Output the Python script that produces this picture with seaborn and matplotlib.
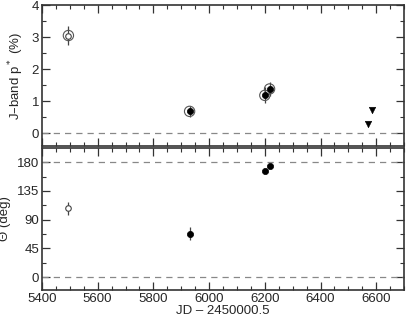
import numpy as np
import pandas as pd
import matplotlib
matplotlib.use("Agg")
import matplotlib.pyplot as plt
from matplotlib.ticker import MultipleLocator
import seaborn as sns

# ── data ──────────────────────────────────────────────────────────────────────
jd_pol = [5495, 5930, 6200, 6217]
pol = [3.05, 0.68, 1.18, 1.38]
pol_err = [0.30, 0.18, 0.25, 0.22]
pol_filled = [False, True, True, True]

jd_lim = [6570, 6585]
pol_lim = [0.27, 0.73]

jd_ang = [5495, 5930, 6200, 6217]
ang = [108, 68, 167, 174]
ang_err = [10, 10, 3, 3]
ang_filled = [False, True, True, True]

sns.set_theme(style="white")
plt.rcParams["font.family"] = ["Liberation Sans", "DejaVu Sans"]
plt.rcParams["font.size"] = 9
plt.rcParams["axes.labelsize"] = 9.5

df_p = pd.DataFrame({"jd": jd_pol, "p": pol, "err": pol_err, "filled": pol_filled})
df_a = pd.DataFrame({"jd": jd_ang, "a": ang, "err": ang_err, "filled": ang_filled})
df_l = pd.DataFrame({"jd": jd_lim, "p": pol_lim})

fig = plt.figure(figsize=(4.07, 3.20), dpi=100)
ax1 = fig.add_axes([0.103, 0.544, 0.890, 0.440])
ax2 = fig.add_axes([0.103, 0.094, 0.890, 0.443])

edge = "#333333"

# top panel: polarisation
ax1.axhline(0, color="#888888", lw=0.9, ls=(0, (5, 4)))
ax1.errorbar(df_p["jd"], df_p["p"], yerr=df_p["err"], fmt="none",
             ecolor="#444444", elinewidth=0.9, zorder=2)
sns.scatterplot(data=df_p, x="jd", y="p", ax=ax1, s=55, marker="o",
                facecolor="none", edgecolor="#555555", linewidth=0.8,
                legend=False, zorder=3)
sns.scatterplot(data=df_p[df_p["filled"]], x="jd", y="p", ax=ax1, s=20,
                color="black", edgecolor="black", linewidth=0.5,
                legend=False, zorder=4)
sns.scatterplot(data=df_p[~df_p["filled"]], x="jd", y="p", ax=ax1, s=16,
                facecolor="white", edgecolor="#444444", linewidth=0.8,
                legend=False, zorder=4)
sns.scatterplot(data=df_l, x="jd", y="p", ax=ax1, s=22, marker="v",
                color="black", edgecolor="black", legend=False, zorder=4)

ax1.set_xlim(5400, 6700)
ax1.set_ylim(-0.4, 4)
ax1.yaxis.set_major_locator(MultipleLocator(1))
ax1.yaxis.set_minor_locator(MultipleLocator(0.5))
ax1.set_ylabel("J\u2013band p$^*$ (%)")
ax1.set_xlabel("")
ax1.tick_params(labelbottom=False)

# bottom panel: angle
for yv in (0, 180):
    ax2.axhline(yv, color="#888888", lw=0.9, ls=(0, (5, 4)))
ax2.errorbar(df_a["jd"], df_a["a"], yerr=df_a["err"], fmt="none",
             ecolor="#444444", elinewidth=0.9, zorder=2)
sns.scatterplot(data=df_a[df_a["filled"]], x="jd", y="a", ax=ax2, s=20,
                color="black", edgecolor="black", linewidth=0.5,
                legend=False, zorder=4)
sns.scatterplot(data=df_a[~df_a["filled"]], x="jd", y="a", ax=ax2, s=16,
                facecolor="white", edgecolor="#444444", linewidth=0.8,
                legend=False, zorder=4)

ax2.set_xlim(5400, 6700)
ax2.set_ylim(-20, 202)
ax2.yaxis.set_major_locator(MultipleLocator(45))
ax2.yaxis.set_minor_locator(MultipleLocator(22.5))
ax2.set_ylabel("\u0398 (deg)")
ax2.set_xlabel("JD \u2013 2450000.5", labelpad=0)

for ax in (ax1, ax2):
    ax.xaxis.set_major_locator(MultipleLocator(200))
    ax.xaxis.set_minor_locator(MultipleLocator(50))
    ax.tick_params(which="both", direction="in", top=True, right=True,
                   bottom=True, left=True, color=edge, labelsize=9.5, pad=2)
    ax.tick_params(which="major", length=6, width=0.9)
    ax.tick_params(which="minor", length=3, width=0.8)
    for sp in ax.spines.values():
        sp.set_color(edge)
        sp.set_linewidth(1.2)
    ax.yaxis.labelpad = 4

fig.savefig("out.png", dpi=100)
